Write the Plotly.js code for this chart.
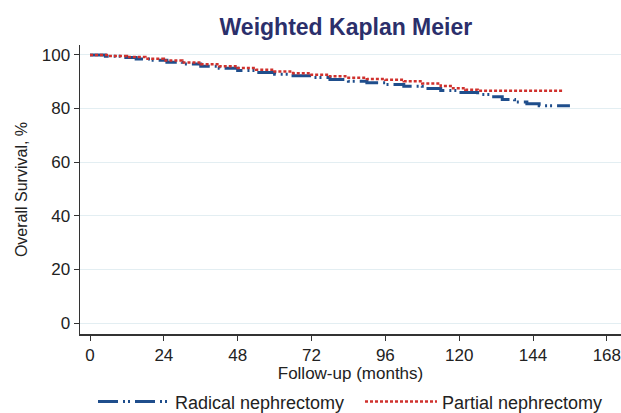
<!DOCTYPE html>
<html>
<head>
<meta charset="utf-8">
<script src="https://cdn.plot.ly/plotly-3.0.1.min.js"></script>
<style>html,body{margin:0;padding:0;background:#fff;}#chart{width:621px;height:413px;}</style>
</head>
<body>
<div id="chart"></div>
<script>
// Radical nephrectomy (weighted KM)
const radicalTime = [0, 5, 10, 15, 20, 25, 30, 36, 42, 48, 54, 60, 66, 72, 78, 84, 90, 96, 102, 108, 114, 120, 126, 130, 134, 138, 142, 146, 156];
const radicalSurv = [100, 99.5, 99.0, 98.5, 98.0, 97.3, 96.6, 95.8, 95.0, 94.2, 93.4, 92.8, 92.2, 91.6, 90.8, 90.2, 89.6, 89.0, 88.3, 87.5, 86.7, 86.0, 85.2, 84.4, 83.4, 82.4, 81.8, 81.0, 81.0];
// Partial nephrectomy (weighted KM)
const partialTime = [0, 6, 12, 18, 24, 30, 36, 42, 48, 54, 60, 66, 72, 78, 84, 90, 96, 102, 108, 114, 118, 122, 126, 154];
const partialSurv = [100, 99.6, 99.2, 98.6, 97.9, 97.2, 96.5, 95.8, 95.1, 94.5, 93.8, 93.2, 92.6, 92.0, 91.5, 91.0, 90.7, 90.2, 89.3, 88.4, 87.6, 87.0, 86.6, 86.6];
const xTicks = [0, 24, 48, 72, 96, 120, 144, 168];
const yTicks = [0, 20, 40, 60, 80, 100];

const font = 'Liberation Sans, Arial, sans-serif';
const traces = [
  {x: radicalTime, y: radicalSurv, type: 'scatter', mode: 'lines', line: {shape: 'hv', color: '#1f4e8c', width: 3, dash: '20px,5px,2px,3px,2px,5px'}, name: 'Radical nephrectomy', legend: 'legend'},
  {x: partialTime, y: partialSurv, type: 'scatter', mode: 'lines', line: {shape: 'hv', color: '#d0312d', width: 2.5, dash: '3px,2px'}, name: 'Partial nephrectomy', legend: 'legend2'}
];
const legendBase = {orientation: 'h', xref: 'container', yref: 'container', xanchor: 'left', y: 0.027, yanchor: 'middle', font: {family: font, size: 18, color: '#222'}, itemwidth: 72, bgcolor: 'rgba(0,0,0,0)'};
const layout = {
  width: 621, height: 413,
  margin: {l: 80, r: 0, t: 45, b: 79},
  paper_bgcolor: '#fff', plot_bgcolor: '#fff',
  title: {text: 'Weighted Kaplan Meier', font: {family: font, size: 23, color: '#2b2f6b', weight: 'bold'}, x: 0.557, xanchor: 'center', y: 0.935, yanchor: 'middle', xref: 'container', yref: 'container'},
  xaxis: {range: [-3.25, 172.6], tickvals: xTicks, ticktext: xTicks.map(String), ticks: 'outside', ticklen: 5, tickcolor: '#333', showline: true, linecolor: '#333', linewidth: 1.5, showgrid: false, zeroline: false,
    ticklabeloverflow: 'allow',
    tickfont: {family: font, size: 17, color: '#222'},
    title: {text: 'Follow-up (months)', font: {family: font, size: 17, color: '#222'}, standoff: 1}},
  yaxis: {range: [-4.1, 103.7], tickvals: yTicks, ticktext: yTicks.map(String), ticks: 'outside', ticklen: 5, tickcolor: '#333', showline: true, linecolor: '#333', linewidth: 1.5, showgrid: true, gridcolor: '#e3eef2', gridwidth: 1, zeroline: false,
    tickfont: {family: font, size: 17, color: '#222'},
    title: {text: 'Overall Survival, %', font: {family: font, size: 16, color: '#222'}, standoff: 10}},
  showlegend: true,
  legend: Object.assign({}, legendBase, {x: 93 / 621}),
  legend2: Object.assign({}, legendBase, {x: 360 / 621})
};
Plotly.newPlot('chart', traces, layout, {displayModeBar: false, staticPlot: true});
</script>
</body>
</html>
